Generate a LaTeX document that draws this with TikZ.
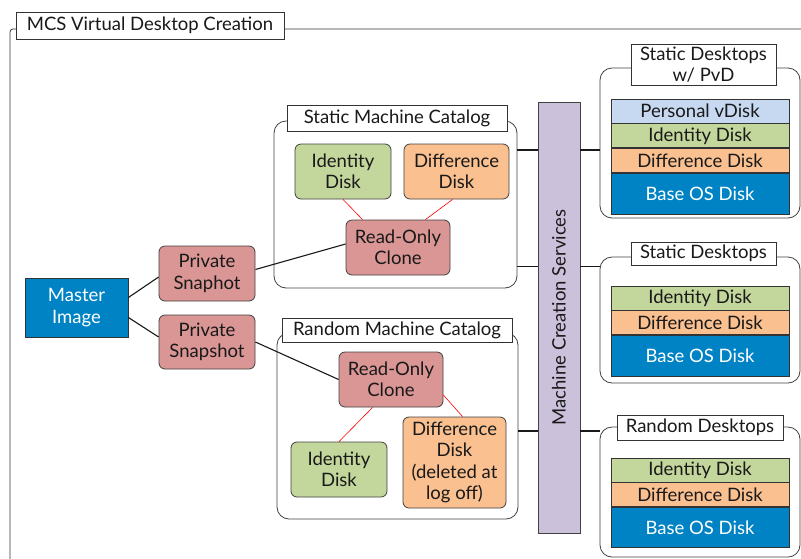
\documentclass[tikz,border=0pt]{standalone}
\usepackage{fontspec}
\setmainfont{Lato}
\usetikzlibrary{positioning}
\definecolor{diskgreen}{HTML}{C3D69B}
\definecolor{diskorange}{HTML}{FAC090}
\definecolor{clonered}{HTML}{D99694}
\definecolor{osblue}{HTML}{0083C4}
\definecolor{pvdblue}{HTML}{C6D9F1}
\definecolor{mcslilac}{HTML}{CCC1DA}

\begin{document}
\begin{tikzpicture}[
    x=1pt, y=-1pt,                 % work in pixel units, y going down
    every node/.style={font=\fontsize{18.5}{21.5}\selectfont, inner sep=0pt, align=center, text=black!90},
    disk/.style={draw=black!75, line width=0.8pt, rounded corners=6pt},
    group/.style={draw=black!75, line width=0.8pt, rounded corners=12pt},
    tag/.style={draw=black!80, line width=0.8pt, fill=white},
    layer/.style={draw=black!80, line width=0.8pt, minimum width=178pt, minimum height=24pt},
    link/.style={line width=1.1pt, black!90},
    redlink/.style={line width=0.6pt, red}
]
% fix the page and cut what runs over it
\path[use as bounding box, clip] (0,0) rectangle (801,558);

% outer frame
\draw[line width=0.8pt, black!80, rounded corners=3pt] (10,580) |- (830,29);
\node[tag, minimum width=268pt, minimum height=27pt] (title) at (150,25.5) {MCS Virtual Desktop Creation};

% master and snapshots
\node[draw=black!80, line width=0.8pt, fill=osblue, text=white, minimum width=103pt, minimum height=59pt] (master) at (76.5,307.5) {Master\\Image};
\node[disk, fill=clonered, minimum width=96pt, minimum height=55pt] (snapA) at (207,273.5) {Private\\Snaphot};
\node[disk, fill=clonered, minimum width=96pt, minimum height=54pt] (snapB) at (207,342) {Private\\Snapshot};

% static machine catalog
\node[group, minimum width=243pt, minimum height=167pt] (sCat) at (395.5,204.5) {};
\node[tag, minimum width=220pt, minimum height=26pt] (sCatTag) at (397,118) {Static Machine Catalog};
\node[disk, fill=diskgreen, minimum width=96pt, minimum height=55pt] (sId) at (343,171.5) {Identity\\Disk};
\node[disk, fill=diskorange, minimum width=105pt, minimum height=55pt] (sDiff) at (456.5,171.5) {Difference\\Disk};
\node[disk, fill=clonered, minimum width=104pt, minimum height=55pt] (sClone) at (398,247.5) {Read-Only\\Clone};

% random machine catalog
\node[group, minimum width=241pt, minimum height=186pt] (rCat) at (397.5,426) {};
\node[tag, minimum width=230pt, minimum height=24pt] (rCatTag) at (397,330) {Random Machine Catalog};
\node[disk, fill=clonered, minimum width=104pt, minimum height=55pt] (rClone) at (391,379.5) {Read-Only\\Clone};
\node[disk, fill=diskgreen, minimum width=96pt, minimum height=55pt] (rId) at (339,469.5) {Identity\\Disk};
\node[disk, fill=diskorange, minimum width=103pt, minimum height=91pt] (rDiff) at (454.5,462.5) {Difference\\Disk\\(deleted at\\log off)};

% machine creation services bar
\node[draw=black!75, line width=0.8pt, fill=mcslilac, rotate=90, minimum width=431pt, minimum height=42pt] (mcs) at (559,317.5) {Machine Creation Services};

% desktops
\node[group, minimum width=200pt, minimum height=150pt] (pvdBox) at (700,143) {};
\node[tag, minimum width=145pt, minimum height=41pt] (pvdTag) at (703.5,64.5) {Static Desktops\\w/ PvD};
\node[layer, fill=pvdblue] (pvdV) at (700,111) {Personal vDisk};
\node[layer, fill=diskgreen, below=0pt of pvdV] (pvdI) {Identity Disk};
\node[layer, fill=diskorange, below=0pt of pvdI] (pvdD) {Difference Disk};
\node[layer, fill=osblue, text=white, minimum height=41pt, below=0pt of pvdD] (pvdOS) {Base OS Disk};

\node[group, minimum width=200pt, minimum height=126pt] (staticBox) at (700,320) {};
\node[tag, minimum width=145pt, minimum height=23pt] (staticTag) at (703.5,253.5) {Static Desktops};
\node[layer, fill=diskgreen] (staticI) at (700,298) {Identity Disk};
\node[layer, fill=diskorange, below=0pt of staticI] (staticD) {Difference Disk};
\node[layer, fill=osblue, text=white, minimum height=41pt, below=0pt of staticD] (staticOS) {Base OS Disk};

\node[group, minimum width=200pt, minimum height=130pt] (randomBox) at (700,492) {};
\node[tag, minimum width=166pt, minimum height=25pt] (randomTag) at (700,427.5) {Random Desktops};
\node[layer, fill=diskgreen] (randomI) at (700,470) {Identity Disk};
\node[layer, fill=diskorange, below=0pt of randomI] (randomD) {Difference Disk};
\node[layer, fill=osblue, text=white, minimum height=40pt, below=0pt of randomD] (randomOS) {Base OS Disk};

% connectors
\draw[link] ([yshift=10pt]master.east) -- ([yshift=-3.5pt]snapA.west);
\draw[link] ([yshift=-10pt]master.east) -- ([yshift=5pt]snapB.west);
\draw[link] ([yshift=4pt]snapA.east) -- ([yshift=3.5pt]sClone.west);
\draw[link] (snapB.east) -- (rClone.west);

\draw[redlink] (sId.south) -- ([xshift=17pt]sClone.north west);
\draw[redlink] ([xshift=49pt]sDiff.south west) -- ([xshift=-25pt]sClone.north east);
\draw[redlink] ([xshift=34pt]rClone.south west) -- (rId.north);
\draw[redlink] ([yshift=-15.5pt]rClone.east) -- ([xshift=60pt]rDiff.north west);

\coordinate (rowA) at (0,150);
\coordinate (rowB) at (0,266.5);
\coordinate (rowC) at (0,431);
\draw[link] (sCat.east |- rowA) -- (mcs.north |- rowA);
\draw[link] (sCat.east |- rowB) -- (mcs.north |- rowB);
\draw[link] (rCat.east |- rowC) -- (mcs.north |- rowC);
\draw[link] (mcs.south |- rowA) -- (pvdBox.west |- rowA);
\draw[link] (mcs.south |- rowB) -- (staticBox.west |- rowB);
\draw[link] (mcs.south |- rowC) -- (randomBox.west |- rowC);
\end{tikzpicture}
\end{document}
